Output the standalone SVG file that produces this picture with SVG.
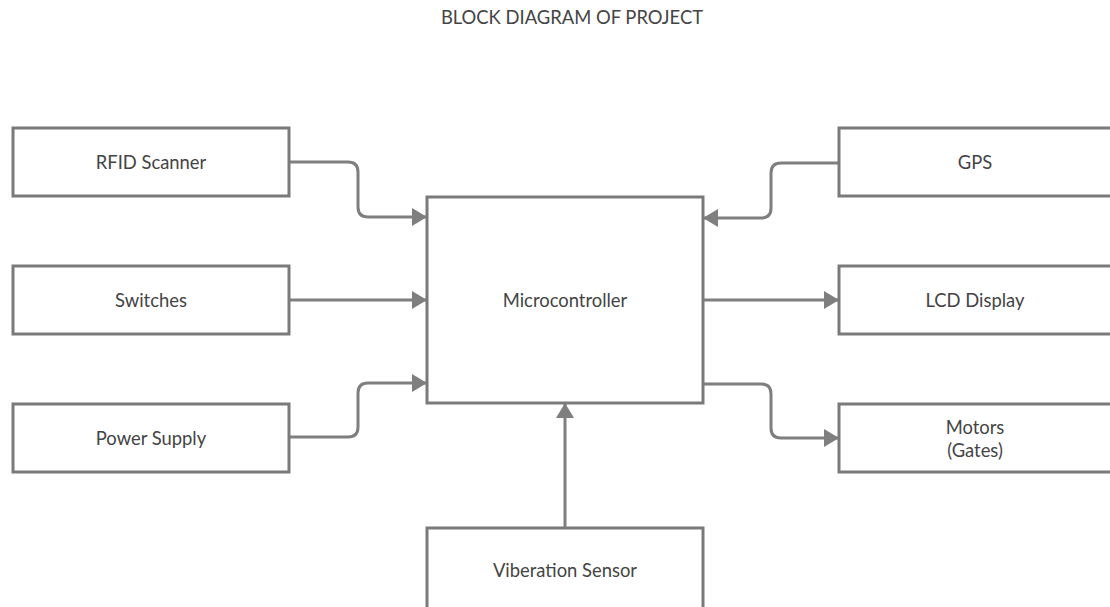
<svg xmlns="http://www.w3.org/2000/svg" width="1110" height="607" viewBox="0 0 1110 607">
<style>
.box{fill:#fff;stroke:#7a7a7a;stroke-width:3}
.lbl{font-family:Lato,"Open Sans","Liberation Sans",sans-serif;font-size:18.4px;fill:#444;text-anchor:middle;dominant-baseline:central}
.edge{fill:none;stroke:#7f7f7f;stroke-width:3}
</style>
<defs>
<marker id="arr" viewBox="0 0 15 18" refX="15" refY="9" markerWidth="15" markerHeight="18" markerUnits="userSpaceOnUse" orient="auto">
<path d="M0,0 L15,9 L0,18 Z" fill="#7f7f7f"/>
</marker>
</defs>
<rect width="1110" height="607" fill="#fff"/>
<text class="lbl" x="572" y="17">BLOCK DIAGRAM OF PROJECT</text>
<g id="connectors">
<path class="edge" marker-end="url(#arr)" d="M289,162 H348 Q358,162 358,172 V207 Q358,217 368,217 H427"/>
<path class="edge" marker-end="url(#arr)" d="M289,300 H427"/>
<path class="edge" marker-end="url(#arr)" d="M287,437 H348 Q358,437 358,427 V393 Q358,383 368,383 H427"/>
<path class="edge" marker-end="url(#arr)" d="M839,163 H781 Q771,163 771,173 V208 Q771,218 761,218 H703"/>
<path class="edge" marker-end="url(#arr)" d="M703,300 H839"/>
<path class="edge" marker-end="url(#arr)" d="M703,384 H761 Q771,384 771,394 V428 Q771,438 781,438 H839"/>
<path class="edge" marker-end="url(#arr)" d="M565,528 V403"/>
</g>
<g id="rfid"><rect class="box" x="13" y="128" width="276" height="68"/><text class="lbl" x="151" y="162">RFID Scanner</text></g>
<g id="switches"><rect class="box" x="13" y="266" width="276" height="68"/><text class="lbl" x="151" y="300">Switches</text></g>
<g id="power"><rect class="box" x="13" y="404" width="276" height="68"/><text class="lbl" x="151" y="438">Power Supply</text></g>
<g id="micro"><rect class="box" x="427" y="197" width="276" height="206"/><text class="lbl" x="565" y="300">Microcontroller</text></g>
<g id="gps"><rect class="box" x="839" y="128" width="280" height="68"/><text class="lbl" x="975" y="162">GPS</text></g>
<g id="lcd"><rect class="box" x="839" y="266" width="280" height="68"/><text class="lbl" x="975" y="300">LCD Display</text></g>
<g id="motors"><rect class="box" x="839" y="404" width="280" height="68"/><text class="lbl" x="975" y="427">Motors</text><text class="lbl" x="975" y="450">(Gates)</text></g>
<g id="vibration"><rect class="box" x="427" y="528" width="276" height="90"/><text class="lbl" x="565" y="570">Viberation Sensor</text></g>
</svg>
